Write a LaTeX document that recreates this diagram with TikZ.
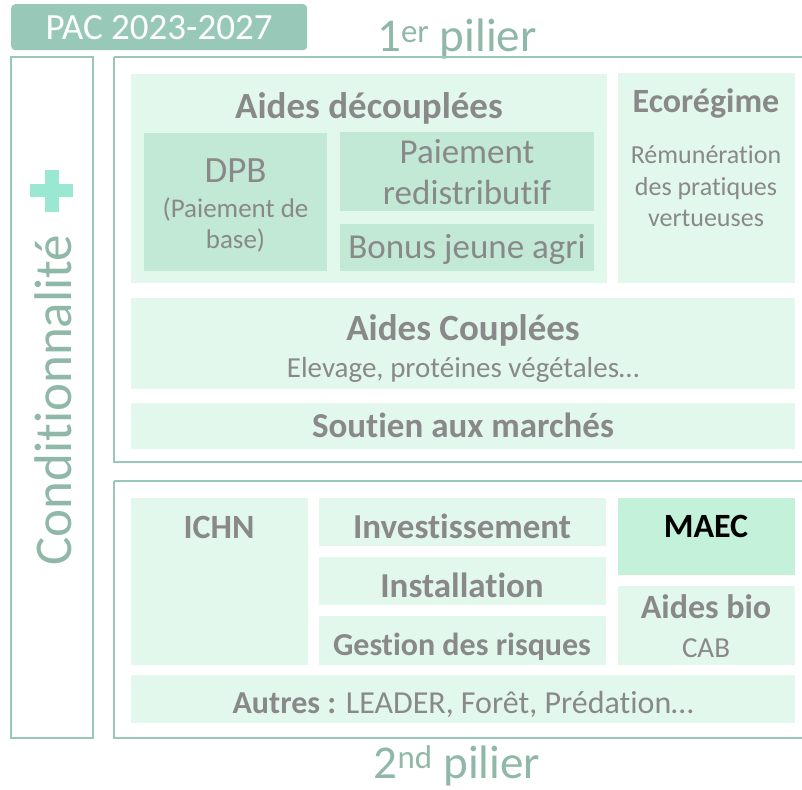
\documentclass[tikz,border=0pt]{standalone}
\usepackage{fontspec}
\setmainfont{Carlito}[Ligatures={TeX,NoCommon}]
\definecolor{frame}{HTML}{98C9B8}
\definecolor{light}{HTML}{E2F8EC}
\definecolor{mid}{HTML}{C2E8D6}
\definecolor{maec}{HTML}{C4F1DA}
\definecolor{txt}{HTML}{898989}
\definecolor{pil}{HTML}{8FB8A8}
\definecolor{plus}{HTML}{9BE8D2}
\tikzset{
  fs/.style={font=\fontsize{#1}{#1}\selectfont},
  lbox/.style={draw=none,fill=light,inner sep=0pt,anchor=north west},
  mbox/.style={draw=none,fill=mid,inner sep=0pt,anchor=north west},
  t/.style={text=txt,inner sep=0pt,anchor=base},
  bt/.style={text=txt,inner sep=0pt,anchor=base,font=\bfseries\fontsize{#1}{#1}\selectfont},
}
\newcommand\mybox[6]{\node[#1,minimum width=#4-#2,minimum height=#5-#3] (#6) at (#2,#3) {};}
\begin{document}
\begin{tikzpicture}[x=1pt,y=-1pt]
\clip (0,0) rectangle (802,789);
\useasboundingbox (0,0) rectangle (802,789);
\fill[white] (0,0) rectangle (802,789);
% header
\node[fill=frame,rounded corners=4pt,minimum width=296pt,minimum height=46pt,inner sep=0pt,anchor=north west] (pac) at (11,4) {};
\node[text=white,inner sep=0pt,anchor=base,fs=37] (pact) at (159,40) {PAC 2023-2027};
% titles
\node[text=pil,inner sep=0pt,anchor=base,fs=47] (p1) at (457,52) {1\textsuperscript{er} pilier};
\node[text=pil,inner sep=0pt,anchor=base,fs=47] (p2) at (457,778) {2\textsuperscript{nd} pilier};
% frames
\draw[frame,line width=2.2pt] (11,57) rectangle (93,738);
\draw[frame,line width=2.2pt] (114,57) -- (810,57) (114,57) -- (114,462) -- (810,462);
\draw[frame,line width=2.2pt] (114,481) -- (810,481) (114,481) -- (114,738) -- (810,738);
% conditionnalite
\node[text=pil,inner sep=0pt,rotate=90,fs=53] (cond) at (53,400) {Conditionnalité};
\fill[plus] (30,184) rectangle (73,197);
\fill[plus] (44.5,170) rectangle (58.5,212);
% 1er pilier
\mybox{lbox}{131}{74}{607}{283}{ad}
\mybox{mbox}{144}{133}{327}{271}{dpb}
\mybox{mbox}{340}{132}{594}{211}{pr}
\mybox{mbox}{340}{224}{594}{271}{bja}
\mybox{lbox}{618}{73}{795}{283}{eco}
\mybox{lbox}{131}{298}{795}{389}{ac}
\mybox{lbox}{131}{403}{795}{449}{sm}
\node[bt=37] (adt) at (369,118) {Aides découplées};
\node[t,fs=37] (dpbt) at (235.5,182) {DPB};
\node[t,fs=27] (dpbs1) at (235.5,217) {(Paiement de};
\node[t,fs=27] (dpbs2) at (235.5,248) {base)};
\node[t,fs=35] (prt1) at (467,163) {Paiement};
\node[t,fs=35] (prt2) at (467,204) {redistributif};
\node[t,fs=35] (bjat) at (467,258) {Bonus jeune agri};
\node[bt=34] (ecot) at (706,113) {Ecorégime};
\node[t,fs=26] (eco1) at (706,163) {Rémunération};
\node[t,fs=26] (eco2) at (706,195) {des pratiques};
\node[t,fs=26] (eco3) at (706,226) {vertueuses};
\node[bt=37] (act) at (463,340) {Aides Couplées};
\node[t,fs=29] (acs) at (463,377) {Elevage, protéines végétales…};
\node[bt=35] (smt) at (463,437) {Soutien aux marchés};
% 2nd pilier
\mybox{lbox}{131}{498}{308}{665}{ichn}
\mybox{lbox}{319}{498}{606}{546}{inv}
\mybox{lbox}{319}{557}{606}{605}{inst}
\mybox{lbox}{319}{616}{606}{665}{gr}
\node[fill=maec,inner sep=0pt,anchor=north west,minimum width=177pt,minimum height=77pt] (maec) at (618,498) {};
\mybox{lbox}{618}{586}{795}{665}{bio}
\mybox{lbox}{131}{675}{795}{723}{aut}
\node[bt=34] (ichnt) at (219,538) {ICHN};
\node[bt=35] (invt) at (462,538) {Investissement};
\node[bt=35] (instt) at (462,597) {Installation};
\node[bt=32] (grt) at (462,655) {Gestion des risques};
\node[inner sep=0pt,anchor=base,font=\bfseries\fontsize{34}{34}\selectfont,text=black] (maect) at (706,537) {MAEC};
\node[bt=34] (biot) at (706,618) {Aides bio};
\node[t,fs=29] (cab) at (706,657) {CAB};
\node[t,fs=32] (autt) at (463,713) {\textbf{Autres :} LEADER, Forêt, Prédation…};
\end{tikzpicture}
\end{document}
